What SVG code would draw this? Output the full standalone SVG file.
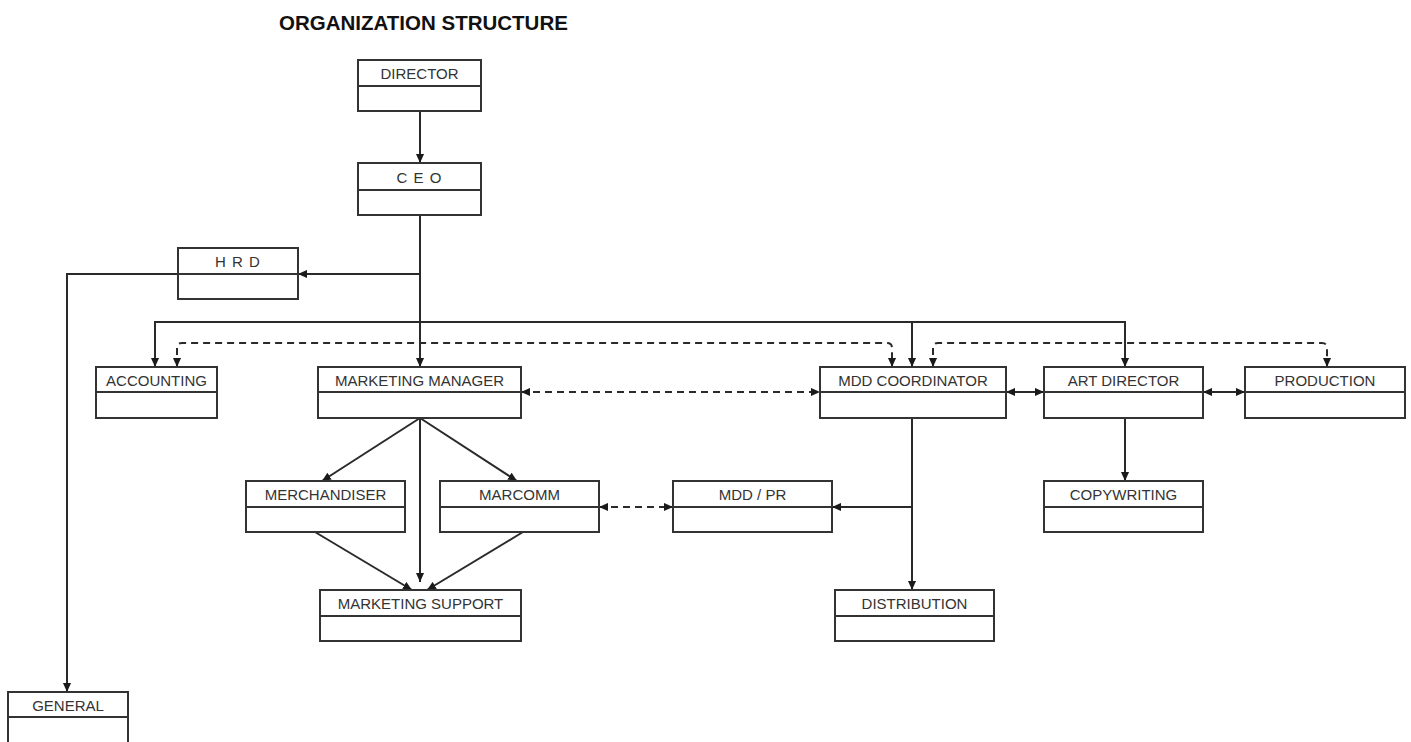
<svg xmlns="http://www.w3.org/2000/svg" width="1411" height="742" viewBox="0 0 1411 742">
<style>
.box{fill:#fff;stroke:#333;stroke-width:2}
.div{stroke:#333;stroke-width:2}
.lbl{font-family:"Liberation Sans",Arial,sans-serif;font-size:15px;fill:#333;text-anchor:middle}
.title{font-family:"Liberation Sans",Arial,sans-serif;font-size:20.5px;font-weight:bold;fill:#111}
.ln{fill:none;stroke:#2a2a2a;stroke-width:2}
.dash{fill:none;stroke:#2a2a2a;stroke-width:2;stroke-dasharray:7 5}
</style>
<defs>
<marker id="ah" viewBox="0 0 10 10" refX="10" refY="5" markerWidth="9" markerHeight="9" orient="auto-start-reverse" markerUnits="userSpaceOnUse">
<path d="M0,0.5 L10,5 L0,9.5 z" fill="#1a1a1a"/>
</marker>
</defs>
<rect width="1411" height="742" fill="#fff"/>
<text class="title" x="279" y="30">ORGANIZATION STRUCTURE</text>

<g id="connectors">
<path class="ln" d="M420,111 V163" marker-end="url(#ah)"/>
<path class="ln" d="M420,215 V367" marker-end="url(#ah)"/>
<path class="ln" d="M420,274 H298" marker-end="url(#ah)"/>
<path class="ln" d="M178,274 H67 V692" marker-end="url(#ah)"/>
<path class="ln" d="M155,367 V322 H1125 V367" marker-start="url(#ah)" marker-end="url(#ah)"/>
<path class="ln" d="M912,322 V367" marker-end="url(#ah)"/>
<path class="dash" d="M177,367 V348 Q177,343 182,343 H887 Q892,343 892,348 V367" marker-start="url(#ah)" marker-end="url(#ah)"/>
<path class="dash" d="M933,367 V348 Q933,343 938,343 H1322 Q1327,343 1327,348 V367" marker-start="url(#ah)" marker-end="url(#ah)"/>
<path class="dash" d="M521,392 H820" marker-start="url(#ah)" marker-end="url(#ah)"/>
<path class="ln" d="M1006,392 H1044" marker-start="url(#ah)" marker-end="url(#ah)"/>
<path class="ln" d="M1203,392 H1245" marker-start="url(#ah)" marker-end="url(#ah)"/>
<path class="ln" d="M420,418 L322,481" marker-end="url(#ah)"/>
<path class="ln" d="M420,418 L517,481" marker-end="url(#ah)"/>
<path class="ln" d="M420,418 V582" marker-end="url(#ah)"/>
<path class="ln" d="M315,532 L412,590" marker-end="url(#ah)"/>
<path class="ln" d="M523,532 L427,590" marker-end="url(#ah)"/>
<path class="dash" d="M599,507 H673" marker-start="url(#ah)" marker-end="url(#ah)"/>
<path class="ln" d="M912,418 V590" marker-end="url(#ah)"/>
<path class="ln" d="M912,507 H832" marker-end="url(#ah)"/>
<path class="ln" d="M1125,418 V481" marker-end="url(#ah)"/>
</g>

<g id="director"><rect class="box" x="358" y="60" width="123" height="51"/><line class="div" x1="358" y1="86" x2="481" y2="86"/><text class="lbl" x="419.5" y="79">DIRECTOR</text></g>
<g id="ceo"><rect class="box" x="358" y="163" width="123" height="52"/><line class="div" x1="358" y1="190" x2="481" y2="190"/><text class="lbl" x="419.5" y="183" style="letter-spacing:1px">C E O</text></g>
<g id="hrd"><rect class="box" x="178" y="248" width="120" height="51"/><line class="div" x1="178" y1="274" x2="298" y2="274"/><text class="lbl" x="238" y="267" style="letter-spacing:1px">H R D</text></g>
<g id="accounting"><rect class="box" x="96" y="367" width="121" height="51"/><line class="div" x1="96" y1="392" x2="217" y2="392"/><text class="lbl" x="156.5" y="386">ACCOUNTING</text></g>
<g id="marketing-manager"><rect class="box" x="318" y="367" width="203" height="51"/><line class="div" x1="318" y1="392" x2="521" y2="392"/><text class="lbl" x="419.5" y="386">MARKETING MANAGER</text></g>
<g id="mdd-coordinator"><rect class="box" x="820" y="367" width="186" height="51"/><line class="div" x1="820" y1="392" x2="1006" y2="392"/><text class="lbl" x="913" y="386">MDD COORDINATOR</text></g>
<g id="art-director"><rect class="box" x="1044" y="367" width="159" height="51"/><line class="div" x1="1044" y1="392" x2="1203" y2="392"/><text class="lbl" x="1123.5" y="386">ART DIRECTOR</text></g>
<g id="production"><rect class="box" x="1245" y="367" width="160" height="51"/><line class="div" x1="1245" y1="392" x2="1405" y2="392"/><text class="lbl" x="1325" y="386">PRODUCTION</text></g>
<g id="merchandiser"><rect class="box" x="246" y="481" width="159" height="51"/><line class="div" x1="246" y1="507" x2="405" y2="507"/><text class="lbl" x="325.5" y="500">MERCHANDISER</text></g>
<g id="marcomm"><rect class="box" x="440" y="481" width="159" height="51"/><line class="div" x1="440" y1="507" x2="599" y2="507"/><text class="lbl" x="519.5" y="500">MARCOMM</text></g>
<g id="mdd-pr"><rect class="box" x="673" y="481" width="159" height="51"/><line class="div" x1="673" y1="507" x2="832" y2="507"/><text class="lbl" x="752.5" y="500">MDD / PR</text></g>
<g id="copywriting"><rect class="box" x="1044" y="481" width="159" height="51"/><line class="div" x1="1044" y1="507" x2="1203" y2="507"/><text class="lbl" x="1123.5" y="500">COPYWRITING</text></g>
<g id="marketing-support"><rect class="box" x="320" y="590" width="201" height="51"/><line class="div" x1="320" y1="616" x2="521" y2="616"/><text class="lbl" x="420.5" y="609">MARKETING SUPPORT</text></g>
<g id="distribution"><rect class="box" x="835" y="590" width="159" height="51"/><line class="div" x1="835" y1="616" x2="994" y2="616"/><text class="lbl" x="914.5" y="609">DISTRIBUTION</text></g>
<g id="general"><rect class="box" x="8" y="692" width="120" height="60"/><line class="div" x1="8" y1="717" x2="128" y2="717"/><text class="lbl" x="68" y="711">GENERAL</text></g>
</svg>
